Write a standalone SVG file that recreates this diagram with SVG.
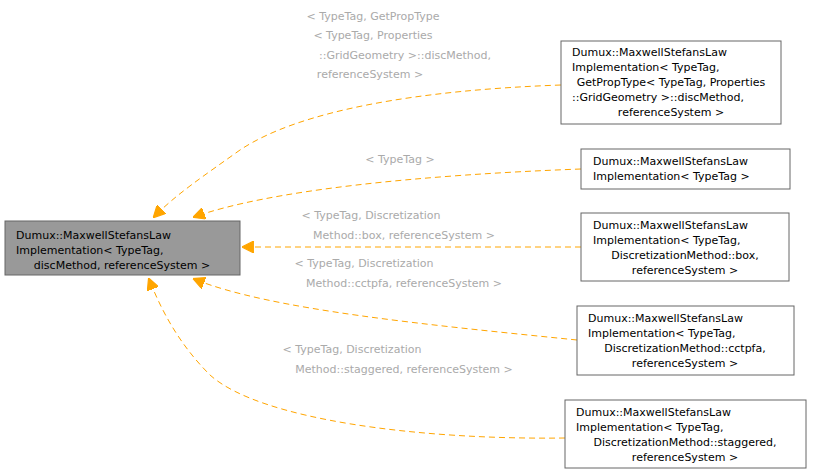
<svg xmlns="http://www.w3.org/2000/svg" width="816" height="475" viewBox="0 0 816 475">
<defs>
<marker id="ah" viewBox="0 0 10 10" refX="9" refY="5" markerWidth="12" markerHeight="12" markerUnits="userSpaceOnUse" orient="auto"><path d="M0,0 L10,5 L0,10 z" fill="#ffa500" stroke="#ffa500"/></marker>
<style>
text{font-family:"DejaVu Sans",sans-serif;font-size:11px;fill:#000}
.l{fill:#aaaaaa}
.n rect{fill:#fff;stroke:#666}
.e path{fill:none;stroke:#ffa500;stroke-dasharray:6,4;marker-end:url(#ah)}
</style>
</defs>
<rect width="816" height="475" fill="#fff"/>
<g class="e" id="edges">
<path d="M561,85 C420,90 300,110 240,150 C205,175 175,195 154,217"/>
<path d="M581,169 C420,175 270,190 194,217"/>
<path d="M581,247 L243,247"/>
<path d="M577,340 C430,325 270,310 194,279"/>
<path d="M565,438 C420,440 260,420 210,375 C185,350 165,320 149,279"/>
</g>
<g id="labels">
<text class="l" x="373" y="20" text-anchor="middle">&lt; TypeTag, GetPropType</text>
<text class="l" x="373" y="39" text-anchor="middle">&lt; TypeTag, Properties</text>
<text class="l" x="405" y="59" text-anchor="middle">::GridGeometry &gt;::discMethod,</text>
<text class="l" x="370" y="78" text-anchor="middle">referenceSystem &gt;</text>
<text class="l" x="400" y="163" text-anchor="middle">&lt; TypeTag &gt;</text>
<text class="l" x="371" y="219" text-anchor="middle">&lt; TypeTag, Discretization</text>
<text class="l" x="404" y="239" text-anchor="middle">Method::box, referenceSystem &gt;</text>
<text class="l" x="364" y="267" text-anchor="middle">&lt; TypeTag, Discretization</text>
<text class="l" x="404" y="287" text-anchor="middle">Method::cctpfa, referenceSystem &gt;</text>
<text class="l" x="352" y="353" text-anchor="middle">&lt; TypeTag, Discretization</text>
<text class="l" x="404" y="373" text-anchor="middle">Method::staggered, referenceSystem &gt;</text>
</g>
<g id="main"><rect x="5" y="221" width="235" height="54" fill="#999" stroke="#666"/>
<text x="16" y="239">Dumux::MaxwellStefansLaw</text><text x="16" y="254">Implementation&lt; TypeTag,</text><text x="122" y="269" text-anchor="middle">discMethod, referenceSystem &gt;</text></g>
<g class="n" id="n1"><rect x="561" y="41" width="220" height="83"/>
<text x="572" y="56">Dumux::MaxwellStefansLaw</text><text x="572" y="71">Implementation&lt; TypeTag,</text><text x="671" y="86" text-anchor="middle">GetPropType&lt; TypeTag, Properties</text><text x="572" y="101">::GridGeometry &gt;::discMethod,</text><text x="671" y="116" text-anchor="middle">referenceSystem &gt;</text></g>
<g class="n" id="n2"><rect x="581" y="149" width="209" height="40"/>
<text x="593" y="165">Dumux::MaxwellStefansLaw</text><text x="593" y="180">Implementation&lt; TypeTag &gt;</text></g>
<g class="n" id="n3"><rect x="581" y="213" width="208" height="68"/>
<text x="593" y="229">Dumux::MaxwellStefansLaw</text><text x="593" y="244">Implementation&lt; TypeTag,</text><text x="685" y="259" text-anchor="middle">DiscretizationMethod::box,</text><text x="685" y="274" text-anchor="middle">referenceSystem &gt;</text></g>
<g class="n" id="n4"><rect x="577" y="306" width="217" height="69"/>
<text x="588" y="322">Dumux::MaxwellStefansLaw</text><text x="588" y="337">Implementation&lt; TypeTag,</text><text x="685" y="352" text-anchor="middle">DiscretizationMethod::cctpfa,</text><text x="685" y="367" text-anchor="middle">referenceSystem &gt;</text></g>
<g class="n" id="n5"><rect x="565" y="400" width="241" height="68"/>
<text x="576" y="416">Dumux::MaxwellStefansLaw</text><text x="576" y="431">Implementation&lt; TypeTag,</text><text x="685" y="446" text-anchor="middle">DiscretizationMethod::staggered,</text><text x="685" y="461" text-anchor="middle">referenceSystem &gt;</text></g>
</svg>
